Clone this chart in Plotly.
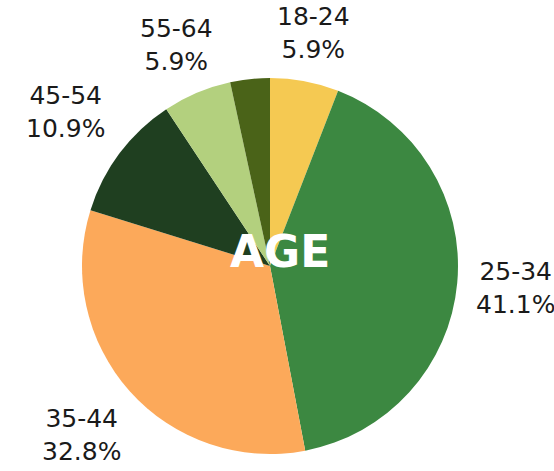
import math
import plotly.graph_objects as go

labels = ["18-24", "25-34", "35-44", "45-54", "55-64", "65+"]
values = [5.9, 41.1, 32.8, 10.9, 5.9, 3.4]
colors = ["#F5C952", "#3C8841", "#FCA95A", "#1F3F20", "#B3D07E", "#4A6318"]
show_label = [True, True, True, True, True, False]

fig = go.Figure(go.Pie(
    labels=labels,
    values=values,
    sort=False,
    direction="clockwise",
    rotation=0,
    marker=dict(colors=colors, line=dict(width=0)),
    textinfo="none",
    showlegend=False,
    hoverinfo="label+percent",
))

# outside labels, placed along each slice's mid-angle (derived from the values)
R = 188                  # pie radius in px (plot area 376x376)
offset = R + 17          # distance of the label box's nearest edge from centre
half_w, half_h = 41, 32  # approx half size of a two-line label
total = sum(values)
cum = 0.0
for lab, v, s in zip(labels, values, show_label):
    mid = (cum + v / 2) / total * 2 * math.pi
    cum += v
    if not s:
        continue
    sx, cy = math.sin(mid), math.cos(mid)
    t = min(half_w / max(abs(sx), 1e-6), half_h / max(abs(cy), 1e-6))
    r = offset + t
    fig.add_annotation(
        text=f"{lab}<br>{v:.1f}%", x=0.5, y=0.5, xref="paper", yref="paper",
        xshift=r * sx, yshift=r * cy, xanchor="center", yanchor="middle", align="center",
        showarrow=False, font=dict(family="DejaVu Sans", size=25, color="#1a1a1a"),
    )

fig.add_annotation(text="<b>AGE</b>", x=0.5, y=0.5, xref="paper", yref="paper",
                   showarrow=False, font=dict(family="DejaVu Sans", size=44, color="white"),
                   xshift=10, yshift=15)

fig.update_layout(
    width=554, height=471,
    margin=dict(l=82, r=96, t=78, b=17),
    paper_bgcolor="white", plot_bgcolor="white",
)

fig.write_html("out.html", config={"displayModeBar": False},
               post_script="document.body.style.margin='0';")
